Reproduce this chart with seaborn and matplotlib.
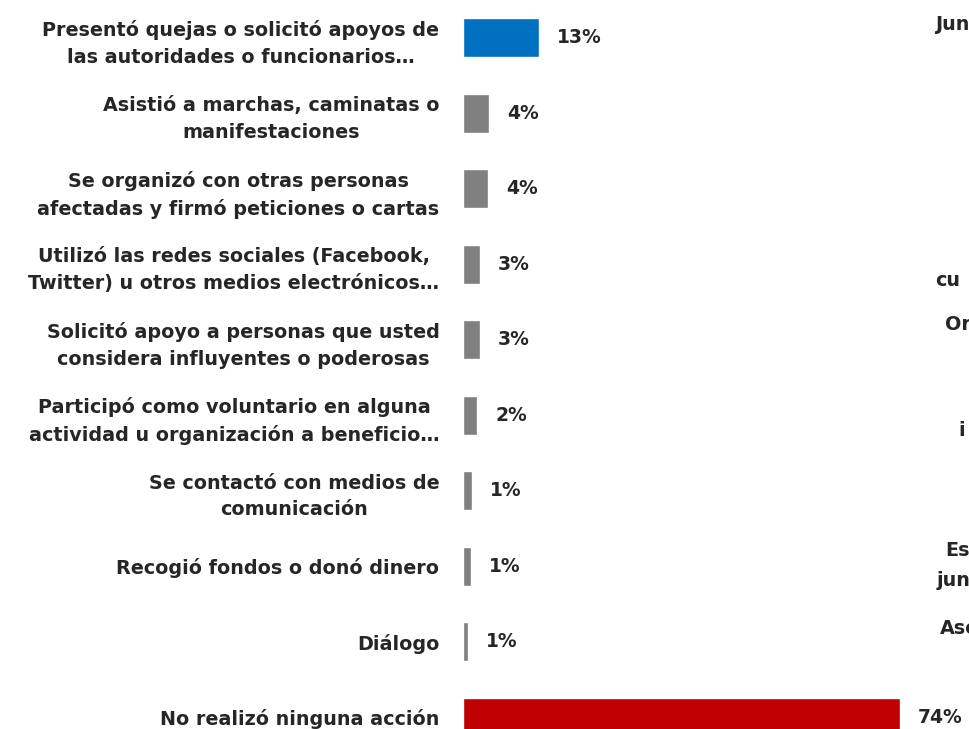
import matplotlib
matplotlib.use("Agg")
import matplotlib.pyplot as plt
import seaborn as sns
import pandas as pd

# datos
acciones = [
    "Presentó quejas o solicitó apoyos de\nlas autoridades o funcionarios…",
    "Asistió a marchas, caminatas o\nmanifestaciones",
    "Se organizó con otras personas\nafectadas y firmó peticiones o cartas",
    "Utilizó las redes sociales (Facebook,\nTwitter) u otros medios electrónicos…",
    "Solicitó apoyo a personas que usted\nconsidera influyentes o poderosas",
    "Participó como voluntario en alguna\nactividad u organización a beneficio…",
    "Se contactó con medios de\ncomunicación",
    "Recogió fondos o donó dinero",
    "Diálogo",
    "No realizó ninguna acción",
]
porcentajes = [12.9, 4.4, 4.3, 2.9, 2.8, 2.4, 1.5, 1.4, 0.9, 74.0]
etiquetas = ["13%", "4%", "4%", "3%", "3%", "2%", "1%", "1%", "1%", "74%"]
colores = ["#0070C0"] + ["#808080"] * 8 + ["#C00000"]

# fragmentos del grafico vecino (cortados en el borde)
fragmentos = ["Jun", "cu", "Or", "i", "Es", "jun", "Aso"]

df = pd.DataFrame({"accion": acciones, "pct": porcentajes})

sns.set_theme(style="white")
plt.rcParams["font.family"] = ["DejaVu Sans"]
texto = "#262626"

fig = plt.figure(figsize=(9.7, 7.29), dpi=100)
ax = fig.add_axes([463 / 970, 1 - 755 / 729, 472 / 970, 755 / 729])

sns.barplot(data=df, x="pct", y="accion", hue="accion", palette=colores,
            legend=False, width=0.51, ax=ax, saturation=1)

for cont, lab in zip(ax.containers, etiquetas):
    ax.bar_label(cont, labels=[lab], padding=13, fontsize=13.5,
                 fontweight="bold", color=texto)

ax.set_xlim(0, 80)
ax.set_ylim(9.5, -0.5)
ax.set_xlabel("")
ax.set_ylabel("")
ax.set_xticks([])
ax.tick_params(axis="y", length=0, pad=17)
for t in ax.get_yticklabels():
    t.set_fontsize(13.8)
    t.set_fontweight("bold")
    t.set_color(texto)
    t.set_multialignment("center")
    t.set_linespacing(1.5)
sns.despine(ax=ax, left=True, bottom=True)

pos_frag = [(935, 25), (935, 280), (945, 325), (958, 430), (945, 550),
            (937, 580), (940, 628)]
for txt, (px, py) in zip(fragmentos, pos_frag):
    fig.text(px / 970, 1 - py / 729, txt, fontsize=13.8, fontweight="bold",
             color=texto, ha="left", va="center")

fig.savefig("out.png", dpi=100)
